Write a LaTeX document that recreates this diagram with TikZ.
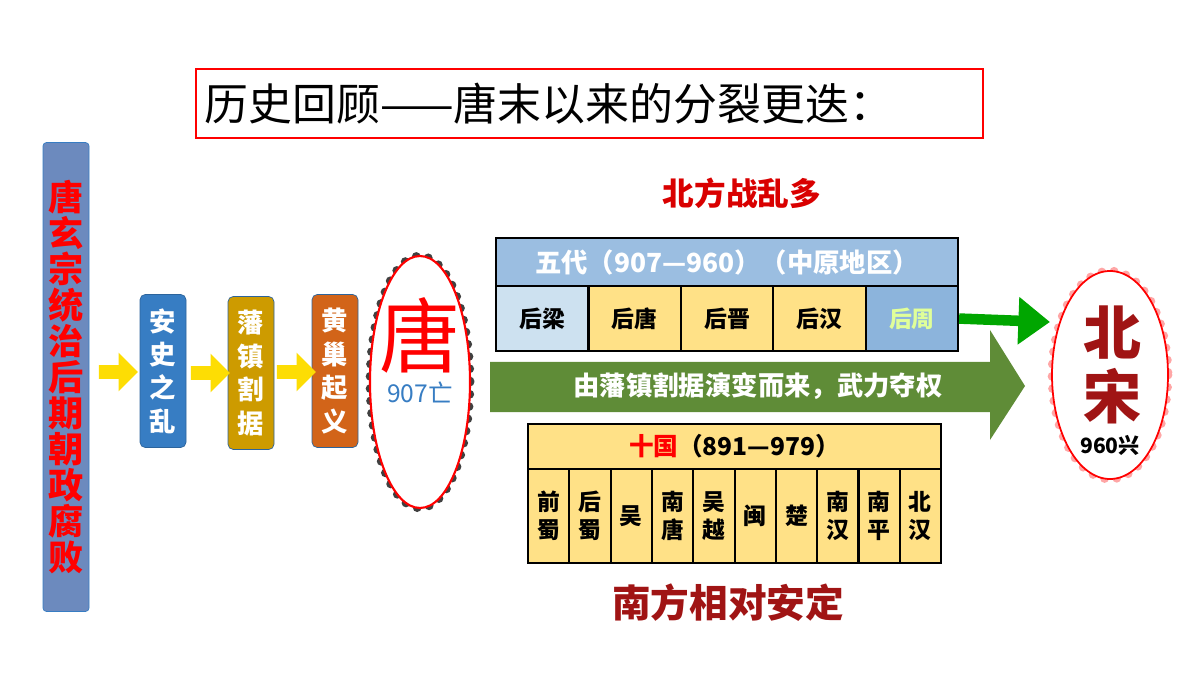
\documentclass[tikz,border=0pt]{standalone}
\usepackage{fontspec}
\setmainfont{Noto Sans CJK SC}
\usetikzlibrary{positioning,shapes.arrows,arrows.meta}
\definecolor{barblue}{RGB}{108,138,190}
\definecolor{boxblue}{RGB}{55,125,195}
\definecolor{boxgold}{RGB}{205,155,0}
\definecolor{boxorange}{RGB}{210,100,25}
\definecolor{headblue}{RGB}{155,190,225}
\definecolor{paleblue}{RGB}{205,225,240}
\definecolor{midblue}{RGB}{140,180,220}
\definecolor{cellyellow}{RGB}{255,225,135}
\definecolor{armygreen}{RGB}{95,140,55}
\definecolor{darkred}{RGB}{160,20,20}

\begin{document}
\begin{tikzpicture}[
        x=0.02cm, y=-0.02cm,
        stage/.style={draw=boxblue!80!black, rounded corners=3pt, text=white, font=\fontsize{15}{19}\selectfont\bfseries, align=center, minimum width=46*0.02cm, minimum height=153*0.02cm, inner sep=0pt},
        flow/.style={single arrow, draw=none, fill=yellow!80!orange, minimum height=39*0.02cm, single arrow head extend=4pt, minimum width=22pt, inner sep=2pt},
        cell/.style={draw=black, line width=1.2pt, inner sep=0pt, font=\fontsize{13}{16}\selectfont\bfseries, align=center}
    ]
    \useasboundingbox (0,0) rectangle (1200,675);
    % title
    \node [draw=red, line width=1pt, minimum width=787*0.02cm, minimum height=69*0.02cm, font=\fontsize{25}{28}\selectfont, anchor=north west, text width=770*0.02cm, align=left] (title) at (195,68) {历史回顾——唐末以来的分裂更迭：};
    % left column
    \node [fill=barblue, draw=boxblue, rounded corners=2pt, minimum width=46*0.02cm, minimum height=469*0.02cm, inner sep=0pt, text=red, font=\fontsize{20}{20.5}\selectfont\bfseries, align=center] (cause) at (66,377)
        {唐\\玄\\宗\\统\\治\\后\\期\\朝\\政\\腐\\败};
    \node [stage, fill=boxblue] (anshi) at (163,371) {安\\史\\之\\乱};
    \node [stage, fill=boxgold] (fanzhen) at (251,373) {藩\\镇\\割\\据};
    \node [stage, fill=boxorange] (huangchao) at (335,371) {黄\\巢\\起\\义};
    \node [flow] at (115,372) {};
    \node [flow] at (207,373) {};
    \node [flow] at (293,372) {};
    % Tang
    \draw [line width=5pt, dash pattern=on 0pt off 7pt, line cap=round, color=black!75] (420,382) ellipse [x radius=50, y radius=126];
    \draw [red, line width=1.2pt, fill=white] (420,382) ellipse [x radius=50, y radius=126];
    \node [text=red, font=\fontsize{46}{48}\selectfont] (tang) at (420,335) {唐};
    \node [text=boxblue, font=\fontsize{14}{16}\selectfont, below=-2pt of tang] (tangend) {907亡};
    % green arrow
    \fill [armygreen] (490,362) -- (990,362) -- (990,330) -- (1025,386) -- (990,440) -- (990,412) -- (490,412) -- cycle;
    \node [text=white, font=\fontsize{15}{18}\selectfont\bfseries] (change) at (758,386) {由藩镇割据演变而来，武力夺权};
    % Five dynasties
    \node [text=red!85!black, font=\fontsize{18}{20}\selectfont\bfseries] (north) at (742,193) {北方战乱多};
    \node [cell, fill=headblue, minimum width=462*0.02cm, minimum height=48*0.02cm, text=white, anchor=north west, font=\fontsize{15}{18}\selectfont\bfseries] (wudai) at (495,237) {五代（907—960）（中原地区）};
    \foreach \name [count=\i] in {后梁,后唐,后晋,后汉,后周} {
        \ifnum\i=1 \def\shade{paleblue}\def\ink{black}\else
        \ifnum\i=5 \def\shade{midblue}\def\ink{green!30!yellow!40}\else
        \def\shade{cellyellow}\def\ink{black}\fi\fi
        \node [cell, fill=\shade, text=\ink, minimum width=92.4*0.02cm, minimum height=65*0.02cm, anchor=north west] (wd\i) at ({495+92.4*(\i-1)},285) {\name};
    }
    % Ten kingdoms
    \node [cell, fill=cellyellow, minimum width=413*0.02cm, minimum height=45*0.02cm, anchor=north west, font=\fontsize{14}{17}\selectfont\bfseries] (shiguo) at (527,423) {\textcolor{red}{十国}（891—979）};
    \foreach \name [count=\i] in {前\\蜀,后\\蜀,吴,南\\唐,吴\\越,闽,楚,南\\汉,南\\平,北\\汉} {
        \node [cell, fill=cellyellow, minimum width=41.3*0.02cm, minimum height=94*0.02cm, anchor=north west] (sg\i) at ({527+41.3*(\i-1)},468) {\name};
    }
    \node [text=darkred, font=\fontsize{22}{24}\selectfont\bfseries] (south) at (728,603) {南方相对安定};
    % Song
    \draw [line width=5pt, dash pattern=on 0pt off 7pt, line cap=round, color=red!35] (1110,375) ellipse [x radius=58, y radius=104];
    \draw [red, line width=1pt, fill=white] (1110,375) ellipse [x radius=58, y radius=104];
    \node [text=darkred, font=\fontsize{33}{36}\selectfont\bfseries, align=center] (song) at (1112,365) {北\\宋};
    \node [font=\fontsize{12}{14}\selectfont\bfseries] (songstart) at (1110,445) {960兴};
    \draw [-{Triangle[length=18pt,width=26pt]}, line width=6pt, green!65!black] (wd5.east) -- (1050,322);
\end{tikzpicture}
\end{document}
